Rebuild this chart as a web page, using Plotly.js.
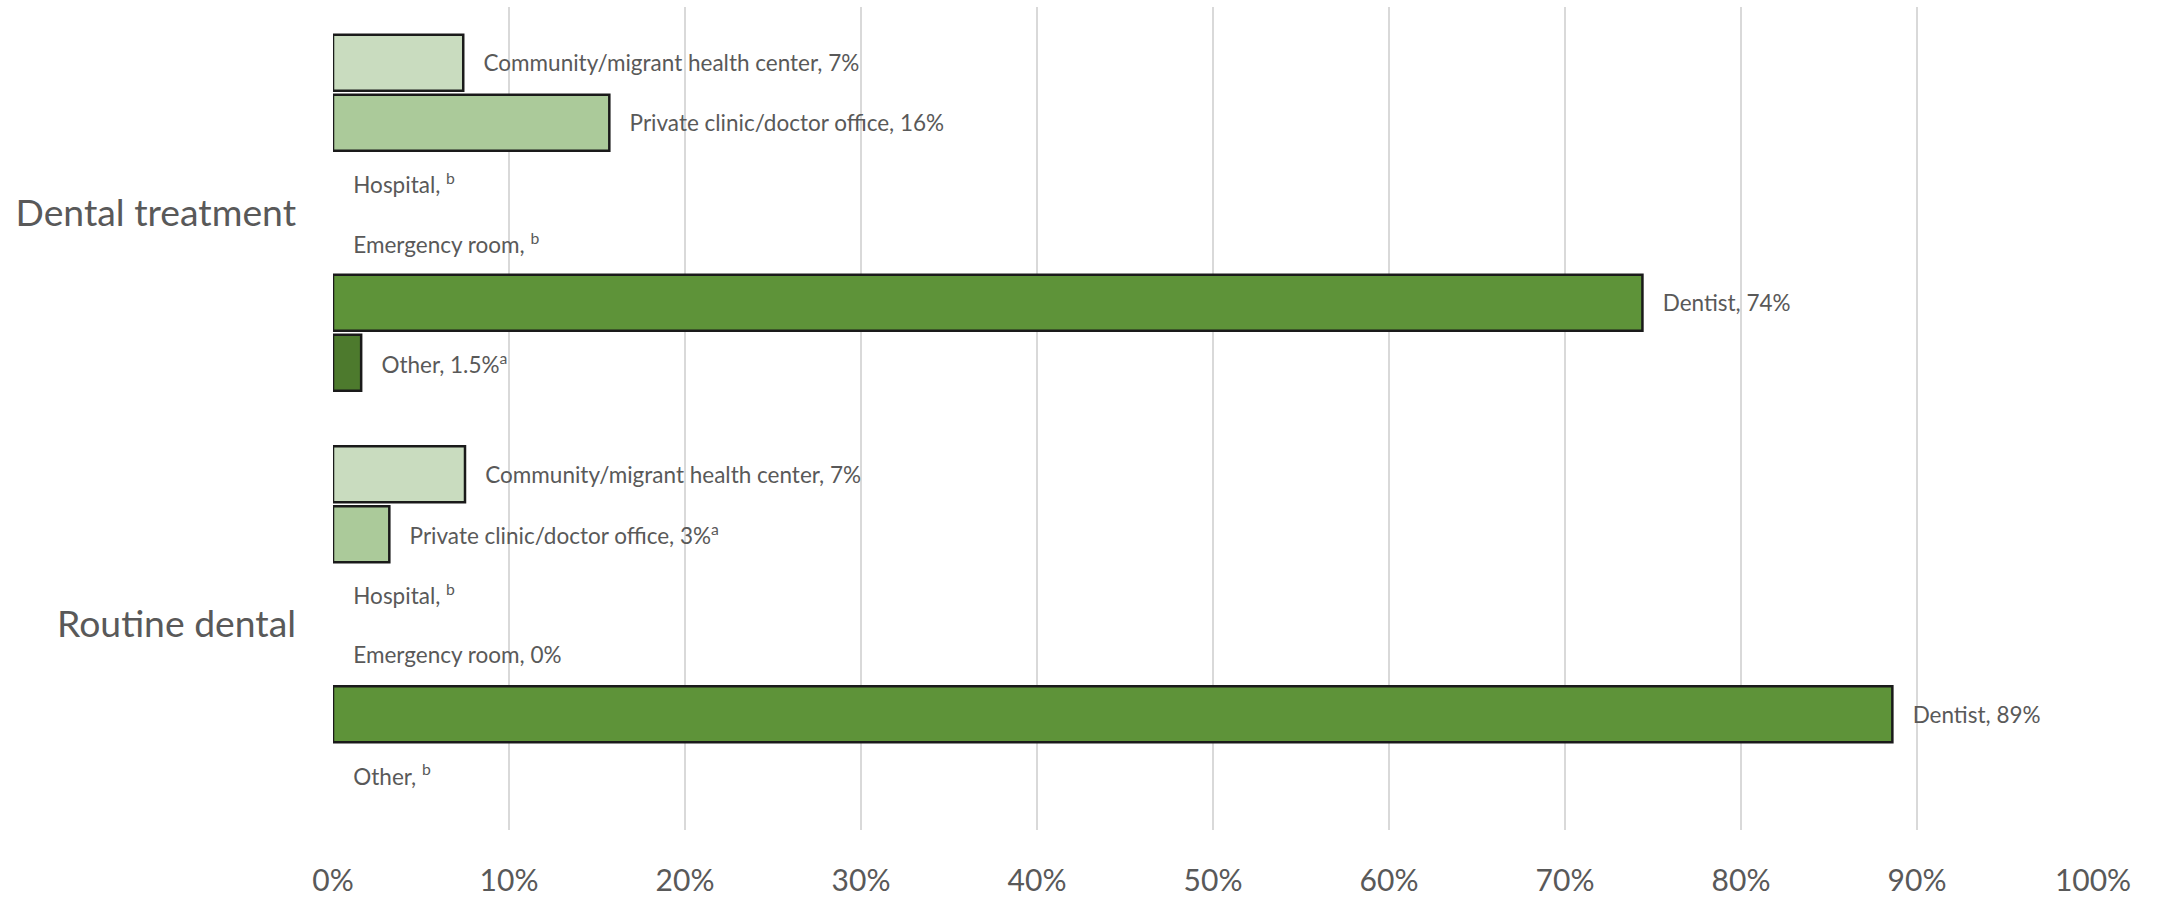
<!DOCTYPE html>
<html>
<head>
<meta charset="utf-8">
<script src="https://cdn.plot.ly/plotly-3.0.1.min.js"></script>
<style>
  html, body { margin: 0; padding: 0; background: #ffffff; }
  #chart { width: 2159px; height: 899px; }
</style>
</head>
<body>
<div id="chart"></div>
<script>
// ---- Data ----
const categories = ['Dental treatment', 'Routine dental'];

const seriesNames = [
  'Community/migrant health center',
  'Private clinic/doctor office',
  'Hospital',
  'Emergency room',
  'Dentist',
  'Other'
];

const communityValues = [7.4, 7.5];
const privateValues   = [15.7, 3.2];
const hospitalValues  = [0, 0];
const erValues        = [0, 0];
const dentistValues   = [74.4, 88.6];
const otherValues     = [1.6, 0];

const communityLabels = ['7%', '7%'];
const privateLabels   = ['16%', '3%<sup>a</sup>'];
const hospitalLabels  = ['<sup>b</sup>', '<sup>b</sup>'];
const erLabels        = ['<sup>b</sup>', '0%'];
const dentistLabels   = ['74%', '89%'];
const otherLabels     = ['1.5%<sup>a</sup>', '<sup>b</sup>'];

const xTickValues = [0, 10, 20, 30, 40, 50, 60, 70, 80, 90, 100];
const xTickLabels = ['0%', '10%', '20%', '30%', '40%', '50%', '60%', '70%', '80%', '90%', '100%'];

// ---- Styles ----
const seriesColors = ['#C9DCBF', '#ABCA9A', '#8DB77A', '#76A85B', '#5E9339', '#4D7A2D'];
const FONT = 'Lato, "Open Sans", "DejaVu Sans", sans-serif';
const TEXT_COLOR = '#595959';
const PAD = '\u00A0\u00A0\u00A0';

const allValues = [communityValues, privateValues, hospitalValues, erValues, dentistValues, otherValues];
const allLabels = [communityLabels, privateLabels, hospitalLabels, erLabels, dentistLabels, otherLabels];

const traces = seriesNames.map((name, i) => ({
  type: 'bar',
  orientation: 'h',
  name: name,
  y: categories,
  x: allValues[i],
  text: allLabels[i].map(l => PAD + name + ', ' + l),
  textposition: 'outside',
  textangle: 0,
  constraintext: 'none',
  cliponaxis: false,
  textfont: { family: FONT, size: 22.5, color: TEXT_COLOR },
  hoverinfo: 'skip',
  marker: {
    color: seriesColors[i],
    line: { color: '#1a1a1a', width: allValues[i].map(v => v > 0 ? 2.5 : 0) }
  }
}));

const layout = {
  width: 2159,
  height: 899,
  paper_bgcolor: '#ffffff',
  plot_bgcolor: '#ffffff',
  showlegend: false,
  barmode: 'group',
  bargap: 0.125,
  bargroupgap: 0.067,
  margin: { l: 333, r: 66, t: 7, b: 69 },
  font: { family: FONT, color: TEXT_COLOR },
  xaxis: {
    range: [0, 100],
    tickvals: xTickValues,
    ticktext: xTickLabels,
    showgrid: true,
    gridcolor: '#D9D9D9',
    gridwidth: 2.5,
    zeroline: false,
    showline: false,
    ticks: '',
    ticklabelstandoff: 30,
    tickfont: { family: FONT, size: 30, color: TEXT_COLOR },
    fixedrange: true
  },
  yaxis: {
    type: 'category',
    autorange: 'reversed',
    showgrid: false,
    zeroline: false,
    showline: false,
    ticks: '',
    ticklabelstandoff: 36,
    tickfont: { family: FONT, size: 37.3, color: TEXT_COLOR },
    fixedrange: true
  }
};

Plotly.newPlot('chart', traces, layout, { displayModeBar: false, staticPlot: true });
</script>
</body>
</html>
